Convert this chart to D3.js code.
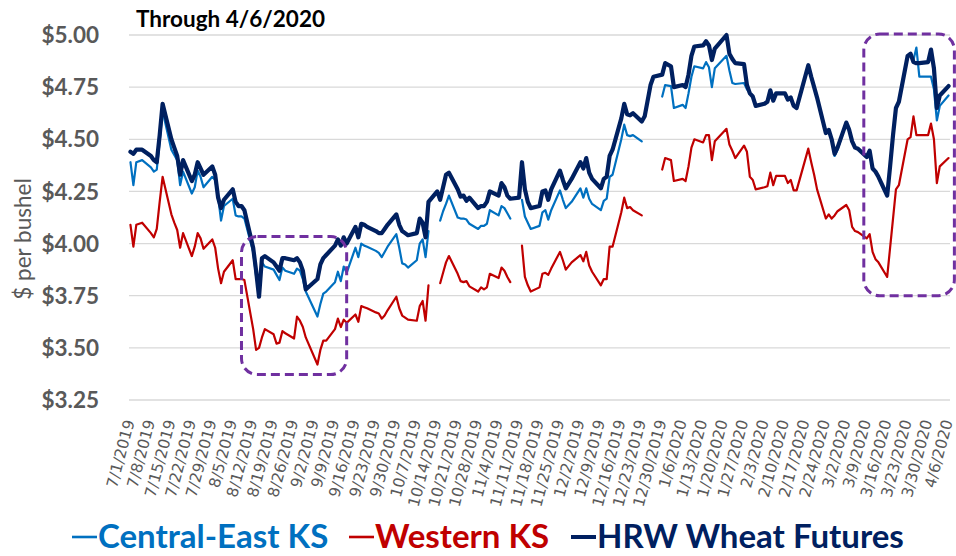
<!DOCTYPE html>
<html><head><meta charset="utf-8">
<script src="https://cdn.jsdelivr.net/npm/d3@7"></script>
<style>html,body{margin:0;padding:0;background:#fff}</style>
</head><body>
<svg id="chart" width="956" height="556"></svg>
<script>
// ---------- DATA ----------
const titleText = "Through 4/6/2020";
const yTitle = "$ per bushel";
const seriesNames = ["Central-East KS", "Western KS", "HRW Wheat Futures"];
const yTicks = [3.25, 3.50, 3.75, 4.00, 4.25, 4.50, 4.75, 5.00];
const weekLabels = ["7/1/2019","7/8/2019","7/15/2019","7/22/2019","7/29/2019","8/5/2019","8/12/2019","8/19/2019","8/26/2019","9/2/2019","9/9/2019","9/16/2019","9/23/2019","9/30/2019","10/7/2019","10/14/2019","10/21/2019","10/28/2019","11/4/2019","11/11/2019","11/18/2019","11/25/2019","12/2/2019","12/9/2019","12/16/2019","12/23/2019","12/30/2019","1/6/2020","1/13/2020","1/20/2020","1/27/2020","2/3/2020","2/10/2020","2/17/2020","2/24/2020","3/2/2020","3/9/2020","3/16/2020","3/23/2020","3/30/2020","4/6/2020"];

const tradingDays = [
"2019-07-01","2019-07-02","2019-07-03","2019-07-05",
"2019-07-08","2019-07-09","2019-07-10","2019-07-11","2019-07-12",
"2019-07-15","2019-07-16","2019-07-17","2019-07-18","2019-07-19",
"2019-07-22","2019-07-23","2019-07-24","2019-07-25","2019-07-26",
"2019-07-29","2019-07-30","2019-07-31","2019-08-01","2019-08-02",
"2019-08-05","2019-08-06","2019-08-07","2019-08-08","2019-08-09",
"2019-08-12","2019-08-13","2019-08-14","2019-08-15","2019-08-16",
"2019-08-19","2019-08-20","2019-08-21","2019-08-22","2019-08-23",
"2019-08-26","2019-08-27","2019-08-28","2019-08-29","2019-08-30",
"2019-09-03","2019-09-04","2019-09-05","2019-09-06",
"2019-09-09","2019-09-10","2019-09-11","2019-09-12","2019-09-13",
"2019-09-16","2019-09-17","2019-09-18","2019-09-19","2019-09-20",
"2019-09-23","2019-09-24","2019-09-25","2019-09-26","2019-09-27",
"2019-09-30","2019-10-01","2019-10-02","2019-10-03","2019-10-04",
"2019-10-07","2019-10-08","2019-10-09","2019-10-10","2019-10-11",
"2019-10-14","2019-10-15","2019-10-16","2019-10-17","2019-10-18",
"2019-10-21","2019-10-22","2019-10-23","2019-10-24","2019-10-25",
"2019-10-28","2019-10-29","2019-10-30","2019-10-31","2019-11-01",
"2019-11-04","2019-11-05","2019-11-06","2019-11-07","2019-11-08",
"2019-11-11","2019-11-12","2019-11-13","2019-11-14","2019-11-15",
"2019-11-18","2019-11-19","2019-11-20","2019-11-21","2019-11-22",
"2019-11-25","2019-11-26","2019-11-27","2019-11-29",
"2019-12-02","2019-12-03","2019-12-04","2019-12-05","2019-12-06",
"2019-12-09","2019-12-10","2019-12-11","2019-12-12","2019-12-13",
"2019-12-16","2019-12-17","2019-12-18","2019-12-19","2019-12-20",
"2019-12-23","2019-12-24","2019-12-26","2019-12-27",
"2019-12-30","2019-12-31","2020-01-02","2020-01-03",
"2020-01-06","2020-01-07","2020-01-08","2020-01-09","2020-01-10",
"2020-01-13","2020-01-14","2020-01-15","2020-01-16","2020-01-17",
"2020-01-21","2020-01-22","2020-01-23","2020-01-24",
"2020-01-27","2020-01-28","2020-01-29","2020-01-30","2020-01-31",
"2020-02-03","2020-02-04","2020-02-05","2020-02-06","2020-02-07",
"2020-02-10","2020-02-11","2020-02-12","2020-02-13","2020-02-14",
"2020-02-18","2020-02-19","2020-02-20","2020-02-21",
"2020-02-24","2020-02-25","2020-02-26","2020-02-27","2020-02-28",
"2020-03-02","2020-03-03","2020-03-04","2020-03-05","2020-03-06",
"2020-03-09","2020-03-10","2020-03-11","2020-03-12","2020-03-13",
"2020-03-16","2020-03-17","2020-03-18","2020-03-19","2020-03-20",
"2020-03-23","2020-03-24","2020-03-25","2020-03-26","2020-03-27",
"2020-03-30","2020-03-31","2020-04-01","2020-04-02","2020-04-03",
"2020-04-06"];

const centralEast = [
4.39,4.28,4.39,4.40,
4.365,4.345,4.355,4.49,4.635,
4.45,4.425,4.40,4.28,4.345,
4.24,4.27,4.35,4.32,4.27,
4.32,4.305,4.225,4.11,4.18,
4.215,4.135,4.13,4.13,4.12,
3.96,3.845,3.765,3.91,3.89,
3.875,3.85,3.825,3.885,3.87,
3.855,3.88,3.87,3.83,3.77,
3.65,3.71,3.76,3.77,
3.815,3.865,3.82,3.89,3.86,
3.98,3.935,4.00,3.99,3.985,
3.965,3.955,3.935,3.96,3.985,
4.045,3.98,3.905,3.90,3.885,
3.92,4.00,4.02,3.935,4.06,
null,4.11,4.155,4.19,4.23,
4.125,4.12,4.12,4.115,4.095,
4.07,4.085,4.085,4.095,4.16,
4.135,4.18,4.17,4.145,4.12,
null,4.21,4.13,4.10,4.07,
4.085,4.15,4.16,4.115,4.16,
4.255,4.21,4.17,4.20,
4.265,4.22,4.265,4.215,4.19,
4.16,4.205,4.215,4.32,4.33,
4.50,4.57,4.52,4.515,4.52,
4.49,null,null,null,
4.705,4.76,4.755,4.65,
4.665,4.65,4.72,4.80,4.85,
4.84,4.87,4.845,4.75,4.84,
4.90,4.83,4.77,4.765,
4.77,4.74,4.72,4.705,4.66,
4.67,4.68,4.735,4.685,4.72,
4.72,4.69,4.70,4.66,4.65,
4.855,4.80,4.75,4.70,
4.53,4.545,4.50,4.42,4.45,
4.58,4.545,4.49,4.46,4.455,
4.415,4.445,4.36,4.345,4.32,
4.23,4.37,4.52,4.65,4.68,
4.90,4.91,4.88,4.94,4.80,
4.80,4.80,4.74,4.59,4.66,
4.71];

const westernKS = [
4.09,3.985,4.09,4.10,
4.05,4.03,4.07,4.20,4.32,
4.14,4.10,4.065,3.98,4.05,
3.94,3.985,4.05,4.025,3.975,
4.02,3.98,3.88,3.81,3.865,
3.92,3.83,3.83,3.83,3.825,
3.59,3.49,3.50,3.55,3.59,
3.565,3.52,3.525,3.58,3.57,
3.545,3.65,3.63,3.60,3.55,
3.42,3.49,3.535,3.535,
3.59,3.64,3.60,3.635,3.62,
3.66,3.625,3.70,3.695,3.69,
3.67,3.665,3.64,3.655,3.68,
3.745,3.69,3.655,3.645,3.635,
3.63,3.70,3.725,3.63,3.80,
null,3.81,3.86,3.91,3.94,
3.855,3.82,3.815,3.82,3.795,
3.77,3.79,3.78,3.79,3.855,
3.835,3.885,3.87,3.84,3.815,
null,3.99,3.84,3.80,3.77,
3.79,3.855,3.86,3.85,3.88,
3.96,3.92,3.875,3.91,
3.945,3.915,3.96,3.895,3.865,
3.80,3.83,3.83,3.985,3.985,
4.15,4.22,4.17,4.175,4.16,
4.135,null,null,null,
4.355,4.41,4.40,4.30,
4.31,4.30,4.37,4.46,4.50,
4.485,4.52,4.52,4.40,4.49,
4.55,4.475,4.445,4.41,
4.47,4.44,4.32,4.305,4.26,
4.27,4.275,4.34,4.28,4.325,
4.325,4.29,4.305,4.255,4.255,
4.455,4.39,4.33,4.26,
4.12,4.14,4.12,4.135,4.155,
4.185,4.16,4.08,4.06,4.055,
4.025,4.045,3.96,3.925,3.91,
3.84,3.98,4.12,4.26,4.28,
4.50,4.51,4.61,4.52,4.52,
4.52,4.575,4.50,4.29,4.37,
4.41];

const hrwFutures = [
4.44,4.43,4.45,4.45,
4.42,4.40,4.39,4.52,4.67,
4.50,4.46,4.42,4.33,4.40,
4.30,4.33,4.39,4.36,4.33,
4.37,4.33,4.22,4.17,4.21,
4.26,4.20,4.18,4.18,4.16,
3.98,3.87,3.745,3.93,3.94,
3.91,3.89,3.87,3.93,3.93,
3.92,3.93,3.91,3.87,3.78,
3.83,3.90,3.93,3.945,
3.99,4.02,3.99,4.03,4.00,
4.08,4.03,4.095,4.09,4.08,
4.06,4.05,4.05,4.07,4.09,
4.14,4.09,4.06,4.05,4.04,
4.05,4.12,4.10,4.03,4.20,
4.25,4.21,4.27,4.33,4.34,
4.26,4.225,4.23,4.205,4.22,
4.17,4.18,4.18,4.20,4.25,
4.23,4.29,4.27,4.23,4.215,
4.22,4.39,4.26,4.20,4.17,
4.18,4.25,4.255,4.21,4.26,
4.35,4.305,4.265,4.31,
4.39,4.36,4.41,4.34,4.31,
4.265,4.31,4.32,4.42,4.45,
4.60,4.67,4.62,4.615,4.625,
4.585,4.61,4.76,4.80,
4.81,4.865,4.85,4.75,
4.76,4.75,4.81,4.90,4.945,
4.95,4.97,4.95,4.88,4.935,
5.00,4.91,4.885,4.865,
4.86,4.76,4.72,4.705,4.66,
4.67,4.68,4.735,4.685,4.72,
4.72,4.69,4.70,4.66,4.65,
4.855,4.80,4.75,4.70,
4.53,4.545,4.50,4.43,4.46,
4.58,4.545,4.49,4.46,4.455,
4.415,4.445,4.36,4.345,4.32,
4.23,4.37,4.52,4.65,4.68,
4.90,4.91,4.87,4.865,4.865,
4.87,4.93,4.84,4.65,4.71,
4.755];

// highlighted periods (date range x price range)
const highlightBoxes = [
  {from: "2019-08-08", to: "2019-09-13", low: 3.372, high: 4.034},
  {from: "2020-03-08", to: "2020-04-08", low: 3.750, high: 5.005}
];

// ---------- CHART ----------
const svg = d3.select("#chart");
svg.append("rect").attr("width", 956).attr("height", 556).attr("fill", "#fff");

const parseDay = d3.utcParse("%Y-%m-%d");
const parseLabel = d3.utcParse("%m/%d/%Y");
const halfDay = 12 * 3600 * 1000;

const x = d3.scaleUtc()
  .domain([new Date(parseDay("2019-07-01").getTime() - halfDay),
           new Date(parseDay("2020-04-06").getTime() + halfDay)])
  .range([129, 950]);
const y = d3.scaleLinear().domain([3.25, 5.0]).range([400, 35]);

const colors = ["#0070C0", "#C00000", "#002060"];
const widths = [2.2, 2.2, 4.2];

// gridlines
svg.append("g").selectAll("line").data(yTicks).join("line")
  .attr("x1", 129).attr("x2", 950)
  .attr("y1", d => y(d)).attr("y2", d => y(d))
  .attr("stroke", "#d9d9d9").attr("stroke-width", 1.3);

// y tick labels
svg.append("g").selectAll("text").data(yTicks).join("text")
  .attr("x", 99).attr("y", d => y(d)).attr("dy", "0.36em")
  .attr("text-anchor", "end")
  .attr("font-family", "Lato, 'Open Sans', sans-serif").attr("font-weight", 700)
  .attr("font-size", 22.5).attr("fill", "#595959")
  .text(d => d3.format("$.2f")(d));

// y title
svg.append("text")
  .attr("transform", "translate(23,239) rotate(-90)")
  .attr("text-anchor", "middle").attr("dy", "0.36em")
  .attr("font-family", "Lato, sans-serif").attr("font-size", 22.5)
  .attr("fill", "#595959").text(yTitle);

// title
svg.append("text").attr("x", 136).attr("y", 27)
  .attr("font-family", "Lato, sans-serif").attr("font-weight", 700)
  .attr("font-size", 22.5).attr("fill", "#000").text(titleText);

// x tick labels
svg.append("g").selectAll("text").data(weekLabels).join("text")
  .attr("transform", d => `translate(${x(parseLabel(d)) - 1},420) rotate(-75)`)
  .attr("text-anchor", "end").attr("dy", "0.35em")
  .attr("font-family", "'DejaVu Sans', sans-serif").attr("font-size", 15.5)
  .attr("fill", "#595959").text(d => d);

// lines
const dates = tradingDays.map(parseDay);
const allSeries = [centralEast, westernKS, hrwFutures];
const line = d3.line()
  .defined(d => d.v != null)
  .x(d => x(d.date)).y(d => y(d.v));
allSeries.forEach((vals, i) => {
  const pts = dates.map((date, k) => ({date, v: vals[k]}));
  svg.append("path").datum(pts)
    .attr("fill", "none").attr("stroke", colors[i])
    .attr("stroke-width", widths[i])
    .attr("stroke-linejoin", "round").attr("stroke-linecap", "round")
    .attr("d", line);
});

// highlight boxes
svg.append("g").selectAll("rect").data(highlightBoxes).join("rect")
  .attr("x", d => x(parseDay(d.from)))
  .attr("y", d => y(d.high))
  .attr("width", d => x(parseDay(d.to)) - x(parseDay(d.from)))
  .attr("height", d => y(d.low) - y(d.high))
  .attr("rx", 16).attr("ry", 16)
  .attr("fill", "none").attr("stroke", "#7030A0")
  .attr("stroke-width", 3).attr("stroke-dasharray", "9,5");

// legend
const legendX = [72, 349, 571];
const lg = svg.append("g");
seriesNames.forEach((name, i) => {
  lg.append("line").attr("x1", legendX[i]).attr("x2", legendX[i] + 25)
    .attr("y1", 537).attr("y2", 537)
    .attr("stroke", colors[i]).attr("stroke-width", i === 2 ? 4 : 2.6);
  lg.append("text").attr("x", legendX[i] + 26).attr("y", 548)
    .attr("font-family", "Lato, sans-serif").attr("font-weight", 700)
    .attr("font-size", 33).attr("fill", colors[i]).text(name);
});
</script>
</body></html>
